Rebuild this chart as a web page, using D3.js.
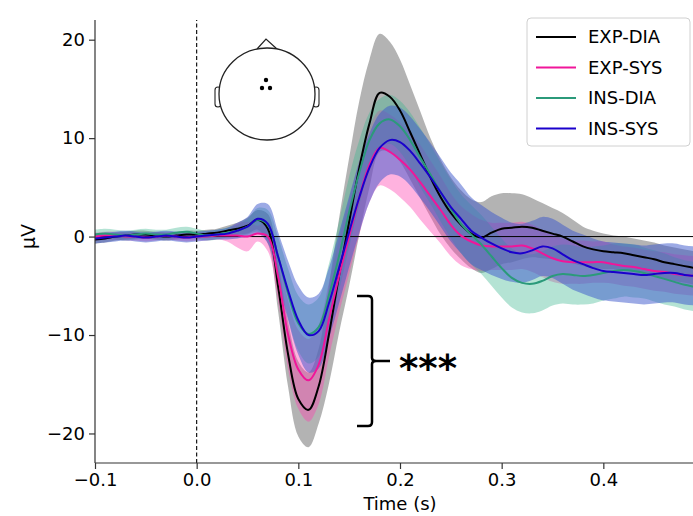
<!DOCTYPE html>
<html>
<head>
<meta charset="utf-8">
<script src="https://cdnjs.cloudflare.com/ajax/libs/d3/7.8.5/d3.min.js"></script>
<style>
  body { margin: 0; background: #fff; }
  svg { display: block; font-family: "DejaVu Sans", sans-serif; }
</style>
</head>
<body>
<svg width="693" height="516"></svg>
<script>
var WIDTH = 693;
var HEIGHT = 516;

// time samples (s)
var times = [-0.10,-0.09,-0.08,-0.07,-0.06,-0.05,-0.04,-0.03,-0.02,-0.01,
  0.00,0.01,0.02,0.03,0.04,0.05,0.06,0.07,0.08,0.09,
  0.10,0.11,0.12,0.13,0.14,0.15,0.16,0.17,0.18,0.19,
  0.20,0.21,0.22,0.23,0.24,0.25,0.26,0.27,0.28,0.29,
  0.30,0.31,0.32,0.33,0.34,0.35,0.36,0.37,0.38,0.39,
  0.40,0.41,0.42,0.43,0.44,0.45,0.46,0.47,0.48,0.49,0.50];

var conditions = ['EXP-DIA', 'EXP-SYS', 'INS-DIA', 'INS-SYS'];

// mean amplitudes (µV)
var expDia = [-0.3,-0.2,0.0,0.1,0.2,0.2,0.1,0.0,0.1,0.2,
  0.2,0.3,0.4,0.6,0.8,1.1,1.7,0.8,-5.0,-12.0,
  -16.5,-17.6,-15.2,-10.0,-4.0,1.5,7.0,11.5,14.6,14.2,
  12.8,10.6,8.3,6.0,4.0,2.4,1.2,0.3,-0.1,0.4,
  0.8,0.9,1.0,0.9,0.6,0.3,0.0,-0.5,-1.0,-1.3,
  -1.5,-1.6,-1.7,-1.9,-2.1,-2.3,-2.6,-2.8,-3.0,-3.2,-3.4];
var expSys = [0.0,0.1,0.1,0.0,0.0,-0.1,0.0,0.1,0.0,-0.1,
  0.0,0.0,0.1,0.1,0.1,0.0,0.3,0.0,-4.0,-10.0,
  -13.5,-14.6,-13.0,-8.5,-4.0,0.0,4.0,7.3,9.0,8.6,
  7.8,6.8,5.5,4.1,2.7,1.2,0.1,-0.5,-0.9,-1.0,
  -1.0,-1.0,-0.9,-1.2,-1.7,-2.2,-2.5,-2.6,-2.6,-2.6,
  -2.6,-2.8,-3.0,-3.1,-3.3,-3.5,-3.6,-3.8,-3.9,-4.0,-4.1];
var insDia = [0.2,0.3,0.2,0.1,0.2,0.3,0.2,0.2,0.4,0.5,
  0.3,0.1,0.2,0.4,0.6,1.0,1.7,1.2,-2.0,-5.8,
  -8.8,-9.9,-9.2,-6.0,-2.0,2.5,6.5,9.8,11.5,11.9,
  11.2,9.8,8.0,6.3,4.5,2.8,1.3,0.2,-0.8,-2.0,
  -3.2,-4.2,-4.7,-4.8,-4.5,-4.0,-3.8,-3.9,-4.0,-3.9,
  -3.7,-3.5,-3.4,-3.5,-3.7,-4.0,-4.3,-4.6,-4.9,-5.1,-5.3];
var insSys = [-0.2,-0.1,0.0,0.1,0.0,-0.1,0.0,0.1,0.0,-0.1,
  0.0,0.1,0.2,0.3,0.6,1.0,1.8,1.3,-2.0,-5.5,
  -8.5,-10.0,-9.6,-6.8,-3.2,0.5,4.0,7.0,9.0,9.8,
  9.6,8.7,7.4,6.0,4.5,3.0,1.8,0.6,-0.1,-0.7,
  -1.2,-1.6,-1.7,-1.4,-1.0,-1.2,-1.8,-2.4,-2.8,-3.2,
  -3.5,-3.6,-3.7,-3.8,-3.9,-3.8,-3.7,-3.7,-3.9,-4.0,-4.1];

// confidence half-widths (µV)
var expDiaCi = [0.4,0.4,0.4,0.4,0.4,0.4,0.4,0.4,0.4,0.4,
  0.4,0.4,0.4,0.5,0.6,0.8,1.0,1.5,2.5,3.3,
  3.8,3.8,3.8,5.0,5.8,6.5,6.8,6.5,6.0,5.6,
  5.2,4.8,4.4,4.0,3.8,3.6,3.5,3.5,3.6,3.7,
  3.6,3.5,3.3,3.0,2.8,2.6,2.4,2.2,2.0,1.9,
  1.8,1.7,1.7,1.7,1.7,1.7,1.7,1.7,1.7,1.7,1.7];
var expSysCi = [0.4,0.4,0.4,0.4,0.4,0.4,0.4,0.4,0.4,0.4,
  0.4,0.4,0.4,0.6,1.2,1.5,0.8,1.5,2.5,3.5,
  4.0,4.2,4.0,3.8,3.8,3.8,3.8,3.8,3.8,3.8,
  3.8,3.8,3.8,3.6,3.4,3.2,3.0,2.8,2.6,2.4,
  2.4,2.4,2.4,2.4,2.4,2.4,2.3,2.2,2.2,2.1,
  2.1,2.0,2.0,2.0,2.0,2.0,2.0,2.0,2.0,2.0,2.0];
var insDiaCi = [0.5,0.5,0.5,0.5,0.5,0.5,0.5,0.5,0.5,0.5,
  0.5,0.5,0.5,0.5,0.6,0.8,1.2,1.5,2.0,2.5,
  2.8,3.0,3.0,3.2,3.5,3.6,3.3,2.8,2.5,2.5,
  2.6,2.8,3.0,3.0,3.0,3.0,3.0,3.0,3.0,3.0,
  3.0,3.0,3.0,3.0,3.0,3.0,3.0,3.0,2.9,2.9,
  2.8,2.8,2.7,2.7,2.6,2.6,2.6,2.5,2.5,2.5,2.5];
var insSysCi = [0.5,0.5,0.5,0.5,0.5,0.5,0.5,0.5,0.5,0.5,
  0.5,0.5,0.5,0.6,0.8,1.0,1.5,2.0,2.5,3.0,
  3.5,3.8,3.8,3.6,3.6,3.6,3.6,3.5,3.5,3.5,
  3.5,3.5,3.5,3.5,3.5,3.5,3.5,3.4,3.3,3.2,
  3.1,3.0,3.0,3.0,3.0,3.0,3.0,3.0,3.0,3.0,
  3.0,3.0,3.0,3.0,3.0,3.0,3.0,3.0,3.0,3.0,3.0];

var xTicks = [-0.1, 0.0, 0.1, 0.2, 0.3, 0.4];
var yTicks = [-20, -10, 0, 10, 20];

var lineColors = ['#000000', '#f0169a', '#2b9a7a', '#1a00cc'];
var fillColors = ['#808080', '#ff3fb0', '#3ab58e', '#3a55cc'];
var fillAlpha = [0.6, 0.4, 0.38, 0.5];

var means = [expDia, expSys, insDia, insSys];
var cis = [expDiaCi, expSysCi, insDiaCi, insSysCi];

var svg = d3.select('svg');

var xScale = d3.scaleLinear().domain([-0.1, 0.5]).range([95, 705]);
var yScale = d3.scaleLinear().domain([-23, 22]).range([463, 20]);

var series = conditions.map(function(name, i){
  return times.map(function(t, j){
    return { t: t, v: means[i][j], lo: means[i][j] - cis[i][j], hi: means[i][j] + cis[i][j] };
  });
});

var plot = svg.append('g');

var area = d3.area()
  .x(function(d){ return xScale(d.t); })
  .y0(function(d){ return yScale(d.lo); })
  .y1(function(d){ return yScale(d.hi); })
  .curve(d3.curveCatmullRom.alpha(0.5));

var line = d3.line()
  .x(function(d){ return xScale(d.t); })
  .y(function(d){ return yScale(d.v); })
  .curve(d3.curveCatmullRom.alpha(0.5));

plot.selectAll('path.band')
  .data(series)
  .enter()
  .append('path')
  .attr('class', 'band')
  .attr('d', area)
  .attr('fill', function(d, i){ return fillColors[i]; })
  .attr('fill-opacity', function(d, i){ return fillAlpha[i]; });

// zero line and stimulus onset
plot.append('line')
  .attr('x1', xScale(-0.1)).attr('x2', xScale(0.5))
  .attr('y1', yScale(0)).attr('y2', yScale(0))
  .attr('stroke', '#000').attr('stroke-width', 1);

plot.append('line')
  .attr('x1', xScale(0)).attr('x2', xScale(0))
  .attr('y1', yScale(-23)).attr('y2', yScale(22))
  .attr('stroke', '#000').attr('stroke-width', 1.1)
  .attr('stroke-dasharray', '4,2.5');

plot.selectAll('path.mean')
  .data(series)
  .enter()
  .append('path')
  .attr('class', 'mean')
  .attr('d', line)
  .attr('fill', 'none')
  .attr('stroke', function(d, i){ return lineColors[i]; })
  .attr('stroke-width', 2);

// axes
var botAxis = d3.axisBottom(xScale)
  .tickValues(xTicks)
  .tickFormat(d3.format('.1f'))
  .tickSize(6)
  .tickPadding(4);
var gx = svg.append('g')
  .attr('transform', 'translate(0,' + yScale(-23) + ')')
  .call(botAxis);

var leftAxis = d3.axisLeft(yScale)
  .tickValues(yTicks)
  .tickSize(6)
  .tickPadding(4);
var gy = svg.append('g')
  .attr('transform', 'translate(' + xScale(-0.1) + ',0)')
  .call(leftAxis);

[gx, gy].forEach(function(g){
  g.attr('font-family', '"DejaVu Sans", sans-serif').attr('font-size', 18);
  g.selectAll('text').attr('fill', '#000');
  g.select('.domain').attr('stroke', '#333').attr('stroke-width', 1.2);
  g.selectAll('.tick line').attr('stroke', '#333').attr('stroke-width', 1.2);
});
// matplotlib spines only, no end caps
gx.select('.domain').attr('d', 'M' + xScale(-0.1) + ',0H' + xScale(0.5));
gy.select('.domain').attr('d', 'M0,' + yScale(22) + 'V' + yScale(-23));

svg.append('text')
  .attr('x', (xScale(-0.1) + xScale(0.5)) / 2)
  .attr('y', 510)
  .attr('text-anchor', 'middle')
  .attr('font-size', 18)
  .text('Time (s)');

svg.append('text')
  .attr('transform', 'translate(35,' + yScale(0) + ') rotate(-90)')
  .attr('text-anchor', 'middle')
  .attr('font-size', 19)
  .text('µV');

// legend
var legend = svg.append('g').attr('transform', 'translate(527,18)');
legend.append('rect')
  .attr('width', 163).attr('height', 128)
  .attr('rx', 4)
  .attr('fill', '#fff').attr('fill-opacity', 0.85)
  .attr('stroke', '#d0d0d0');
var items = legend.selectAll('g.item')
  .data(conditions)
  .enter()
  .append('g')
  .attr('transform', function(d, i){ return 'translate(0,' + (19 + i * 30.5) + ')'; });
items.append('line')
  .attr('x1', 9).attr('x2', 49)
  .attr('stroke', function(d, i){ return lineColors[i]; })
  .attr('stroke-width', 2);
items.append('text')
  .attr('x', 61)
  .attr('dy', '0.35em')
  .attr('font-size', 18)
  .text(function(d){ return d; });

// sensor head inset
var head = svg.append('g').attr('transform', 'translate(267,94)');
head.append('path')
  .attr('d', 'M-10,-45L-1,-55L10,-45')
  .attr('fill', 'none').attr('stroke', '#222').attr('stroke-width', 1.2);
head.append('rect')
  .attr('x', -52).attr('y', -7).attr('width', 6).attr('height', 20).attr('rx', 3)
  .attr('fill', '#fff').attr('stroke', '#222').attr('stroke-width', 1.1);
head.append('rect')
  .attr('x', 46).attr('y', -7).attr('width', 6).attr('height', 20).attr('rx', 3)
  .attr('fill', '#fff').attr('stroke', '#222').attr('stroke-width', 1.1);
head.append('ellipse')
  .attr('rx', 48).attr('ry', 46)
  .attr('fill', '#fff').attr('stroke', '#222').attr('stroke-width', 1.3);
[[-1, -14], [-5, -6], [3, -6]].forEach(function(p){
  head.append('circle').attr('cx', p[0]).attr('cy', p[1]).attr('r', 2.2).attr('fill', '#000');
});

// significance brace
var braceX = 372, braceTop = 296, braceBot = 426, braceMid = 361;
svg.append('path')
  .attr('d', 'M' + (braceX - 15) + ',' + braceTop +
    'H' + (braceX - 4) +
    'Q' + braceX + ',' + braceTop + ' ' + braceX + ',' + (braceTop + 4) +
    'V' + (braceMid - 3) +
    'Q' + braceX + ',' + braceMid + ' ' + (braceX + 4) + ',' + braceMid +
    'H' + (braceX + 18) +
    'M' + (braceX + 4) + ',' + braceMid +
    'Q' + braceX + ',' + braceMid + ' ' + braceX + ',' + (braceMid + 3) +
    'V' + (braceBot - 4) +
    'Q' + braceX + ',' + braceBot + ' ' + (braceX - 4) + ',' + braceBot +
    'H' + (braceX - 15))
  .attr('fill', 'none').attr('stroke', '#000').attr('stroke-width', 2.5);

svg.append('text')
  .attr('x', 399)
  .attr('y', 381)
  .attr('font-size', 37)
  .attr('font-weight', 600)
  .text('***');
</script>
</body>
</html>
